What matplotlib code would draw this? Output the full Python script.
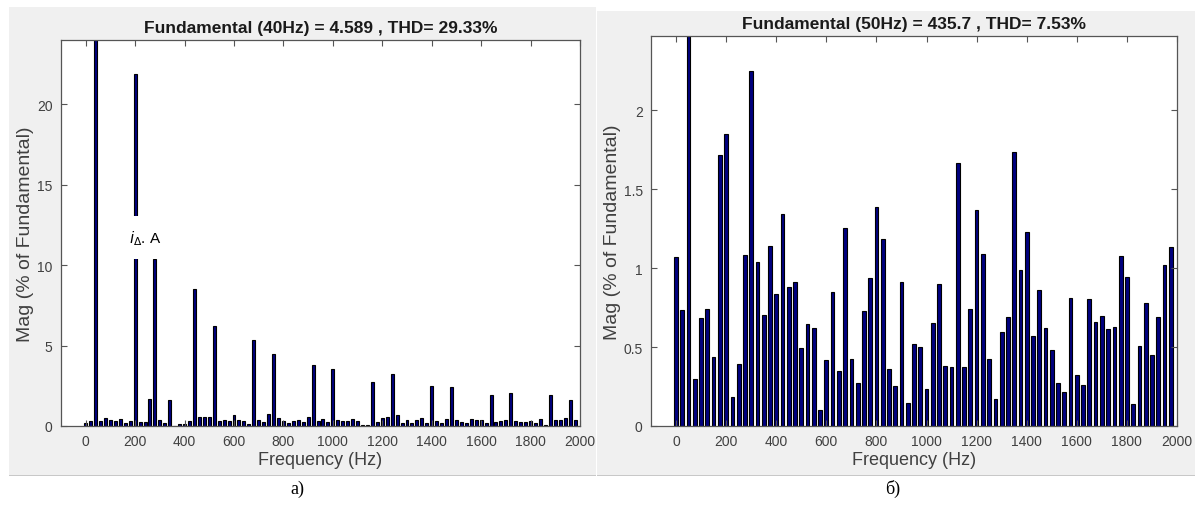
import numpy as np
import matplotlib
matplotlib.use("Agg")
import matplotlib.pyplot as plt
from matplotlib.patches import Rectangle

plt.rcParams['font.family'] = ['Liberation Sans', 'DejaVu Sans']

# --- data: a) 40 Hz fundamental, 20 Hz resolution ---
left_freq = np.arange(0, 2000, 20)
left_mag = [
    0.2, 0.3, 100, 0.3, 0.5, 0.4, 0.3, 0.45, 0.17, 0.3,          # 0..180
    21.9, 0.25, 0.25, 1.7, 10.4, 0.37, 0.17, 1.62, 0.0, 0.15,     # 200..380
    0.15, 0.3, 8.49, 0.58, 0.58, 0.58, 6.22, 0.31, 0.37, 0.31,    # 400..580
    0.66, 0.37, 0.31, 0.1, 5.33, 0.39, 0.25, 0.75, 4.46, 0.52,    # 600..780
    0.31, 0.17, 0.31, 0.37, 0.25, 0.58, 3.8, 0.31, 0.44, 0.25,    # 800..980
    3.52, 0.36, 0.3, 0.3, 0.44, 0.3, 0.06, 0.06, 2.72, 0.25,      # 1000..1180
    0.52, 0.58, 3.24, 0.66, 0.17, 0.37, 0.17, 0.37, 0.52, 0.17,   # 1200..1380
    2.51, 0.31, 0.17, 0.44, 2.43, 0.37, 0.25, 0.17, 0.44, 0.37,   # 1400..1580
    0.37, 0.17, 1.91, 0.25, 0.31, 0.37, 2.05, 0.31, 0.25, 0.25,   # 1600..1780
    0.31, 0.17, 0.44, 0.06, 1.91, 0.37, 0.37, 0.52, 1.62, 0.37,   # 1800..1980
]
left_title = "Fundamental (40Hz) = 4.589 , THD= 29.33%"
left_yticks = [0, 5, 10, 15, 20]

# --- data: б) 50 Hz fundamental, 25 Hz resolution ---
right_freq = np.arange(0, 2000, 25)
right_mag = [
    1.07, 0.735, 100, 0.30, 0.684, 0.744, 0.434, 1.717,           # 0..175
    1.852, 0.184, 0.39, 1.083, 2.25, 1.038, 0.705, 1.142,         # 200..375
    0.833, 1.34, 0.879, 0.909, 0.496, 0.644, 0.623, 0.10,         # 400..575
    0.417, 0.847, 0.35, 1.253, 0.424, 0.27, 0.727, 0.939,         # 600..775
    1.39, 1.185, 0.364, 0.252, 0.909, 0.148, 0.517, 0.502,        # 800..975
    0.237, 0.655, 0.90, 0.381, 0.373, 1.665, 0.373, 0.744,        # 1000..1175
    1.371, 1.091, 0.426, 0.17, 0.593, 0.69, 1.738, 0.99,          # 1200..1375
    1.227, 0.57, 0.864, 0.623, 0.479, 0.275, 0.214, 0.809,        # 1400..1575
    0.322, 0.258, 0.803, 0.659, 0.697, 0.614, 0.629, 1.074,       # 1600..1775
    0.945, 0.138, 0.508, 0.78, 0.449, 0.69, 1.021, 1.133,         # 1800..1975
]
right_title = "Fundamental (50Hz) = 435.7 , THD= 7.53%"
right_yticks = [0, 0.5, 1, 1.5, 2]
right_yticklabels = ["0", "0.5", "1", "1.5", "2"]

xticks = list(range(0, 2001, 200))

W, H = 1199, 506
fig = plt.figure(figsize=(W / 100, H / 100), dpi=100)
fig.patch.set_facecolor("white")

PANEL = "#f0f0f0"
AXC = "#555555"


def px_rect(x0, y0, x1, y1):
    # pixel box (top-left origin) -> figure fraction [l, b, w, h]
    return [x0 / W, 1 - y1 / H, (x1 - x0) / W, (y1 - y0) / H]


def add_panel(x0, y0, x1, y1, z):
    l, b, w, h = px_rect(x0, y0, x1, y1)
    r = Rectangle((l, b), w, h, transform=fig.transFigure, facecolor=PANEL,
                  edgecolor="none", zorder=z)
    fig.patches.append(r)
    line = Rectangle((l, b), w, 0.002, transform=fig.transFigure,
                     facecolor="#c8c8c8", edgecolor="none", zorder=z)
    fig.patches.append(line)


def spectrum(ax, freq, mag, title, ylim, yticks, yticklabels, width):
    ax.bar(freq, mag, width=width, color="#000080", edgecolor="black",
           linewidth=0.8, align="center")
    ax.set_xlim(-100, 2000)
    ax.set_ylim(0, ylim)
    ax.set_xticks(xticks)
    ax.set_yticks(yticks)
    ax.set_yticklabels(yticklabels)
    ax.tick_params(direction="in", length=4, width=0.8, colors=AXC,
                   labelcolor="#404040", labelsize=10, top=True, right=True,
                   labeltop=False, labelright=False, pad=6)
    for s in ax.spines.values():
        s.set_color(AXC)
        s.set_linewidth(0.9)
    ax.set_title(title, fontsize=12.5, fontweight="bold", color="#1a1a1a", pad=6)
    ax.set_xlabel("Frequency (Hz)", fontsize=13, color="#404040", labelpad=2)
    ax.set_ylabel("Mag (% of Fundamental)", fontsize=14, color="#404040", labelpad=2)


# left panel
add_panel(9, 8, 596, 477, 0)
ax1 = fig.add_axes(px_rect(61, 41, 580, 427), zorder=1)
spectrum(ax1, left_freq, left_mag, left_title, 24, left_yticks,
         [str(t) for t in left_yticks], 12)
ax1.text(240, 11.7, r"$i_{\Delta}$. A", fontsize=11, ha="center", va="center",
         zorder=5, bbox=dict(boxstyle="square,pad=0.8", facecolor="white",
                             edgecolor="none"))

# right panel drawn over left axes overflow
add_panel(597, 12, 1195, 477, 2)
ax2 = fig.add_axes(px_rect(651, 37, 1177, 427), zorder=3)
spectrum(ax2, right_freq, right_mag, right_title, 2.47, right_yticks,
         right_yticklabels, 15)

fig.text(297 / W, 1 - 489 / H, "а)", fontsize=13, family="Liberation Serif",
         ha="center", va="center")
fig.text(893 / W, 1 - 489 / H, "б)", fontsize=13, family="Liberation Serif",
         ha="center", va="center")

fig.savefig("out.png", dpi=100, facecolor="white")
